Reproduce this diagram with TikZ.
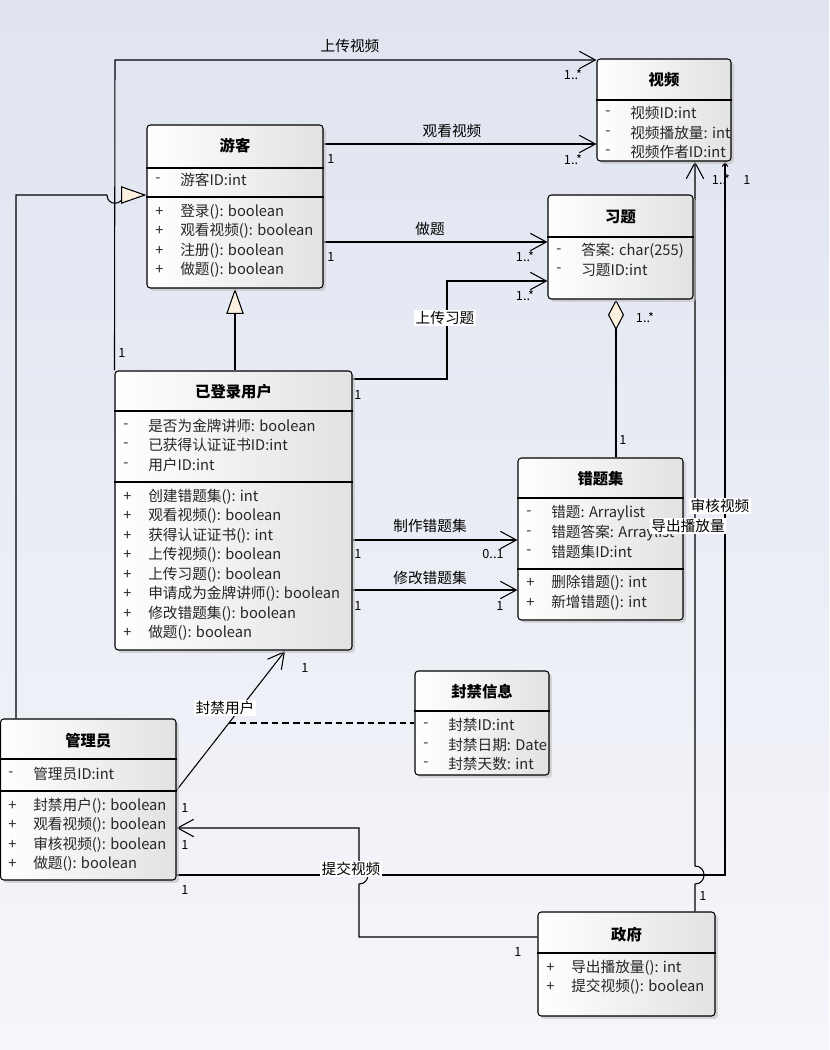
\documentclass[tikz,border=0pt]{standalone}
\usepackage{fontspec}
\setmainfont{Noto Sans CJK SC}
\usetikzlibrary{arrows.meta,shadows,fit,calc}
\definecolor{bgtop}{RGB}{223,228,240}
\definecolor{bgbot}{RGB}{245,246,250}
\definecolor{cream}{RGB}{252,240,224}
\definecolor{boxr}{RGB}{226,226,226}
\pgfdeclarelayer{back}
\pgfdeclarelayer{links}
\pgfsetlayers{back,links,main}
\newcounter{rowc}
\newcommand\mrow[4]{\stepcounter{rowc}\node[mem] (v\therowc) at (#1,#2) {#3};\node[mem] (t\therowc) at (#1+25,#2) {#4};}
\newcommand\umlbox[7]{\node[cls, fit={(#2,#3) (#4,#5)}] (#1) {};\node[ttl] (#1T) at ({(#2+#4)/2},#6) {#7};}
\newcommand\csep[2]{\draw[boxline] (#1.west |- 0,#2) -- (#1.east |- 0,#2);}
\tikzset{
  cls/.style={draw, line width=0.8pt, rounded corners=2.5pt, inner sep=0pt, left color=white, right color=boxr,
    drop shadow={shadow xshift=2.2pt, shadow yshift=-2.2pt, fill=black!25, opacity=0.6}},
  boxline/.style={line width=0.8pt},
  ttl/.style={font=\bfseries\fontsize{11.5}{13}\selectfont, inner sep=0pt},
  mem/.style={anchor=west, inner sep=0pt, font=\fontsize{11}{12}\selectfont, text=black!85},
  mult/.style={inner sep=0pt, font=\fontsize{9.5}{11}\selectfont},
  lbl/.style={inner sep=1pt, font=\fontsize{11}{13}\selectfont},
  lblw/.style={lbl, fill=white},
  conn/.style={line width=0.8pt},
  assoc/.style={conn, -{Straight Barb[length=12pt,width=13pt,line width=0.8pt]}},
  tinyarr/.style={conn, -{Straight Barb[length=3pt,width=4pt,line width=0.8pt]}},
  gen/.style={conn, -{Triangle[length=19pt,width=13pt,fill=cream,line width=0.8pt]}},
  agg/.style={conn, {Diamond[length=23pt,width=12pt,fill=cream,line width=0.8pt]}-},
}
\begin{document}
\begin{tikzpicture}[x=0.75pt,y=-0.75pt]
\useasboundingbox (0,0) rectangle (829,1050);
\begin{pgfonlayer}{back}
\shade[top color=bgtop, bottom color=bgbot] (0,0) rectangle (829,1050);
\end{pgfonlayer}

% ---------- class boxes ----------
\umlbox{vid}{597}{59}{731}{161}{80}{视频}
\umlbox{guest}{147}{125}{323}{288}{146}{游客}
\umlbox{ex}{548}{195}{693}{299}{217}{习题}
\umlbox{logged}{115}{371}{352}{650}{392}{已登录用户}
\umlbox{errs}{518}{458}{683}{620}{479}{错题集}
\umlbox{ban}{415}{671}{549}{775}{692}{封禁信息}
\umlbox{admin}{0.5}{719}{176}{880}{741}{管理员}
\umlbox{gov}{538}{912}{715}{1016}{935}{政府}

\csep{vid}{100}
\mrow{605}{113}{-}{视频ID:int}
\mrow{605}{133}{-}{视频播放量: int}
\mrow{605}{152}{-}{视频作者ID:int}

\csep{guest}{168}
\csep{guest}{197}
\mrow{155}{180}{-}{游客ID:int}
\mrow{155}{212}{+}{登录(): boolean}
\mrow{155}{231}{+}{观看视频(): boolean}
\mrow{155}{251}{+}{注册(): boolean}
\mrow{155}{270}{+}{做题(): boolean}

\csep{ex}{237}
\mrow{556}{251}{-}{答案: char(255)}
\mrow{556}{270}{-}{习题ID:int}

\csep{logged}{411}
\csep{logged}{482}
\mrow{123}{426}{-}{是否为金牌讲师: boolean}
\mrow{123}{445}{-}{已获得认证证书ID:int}
\mrow{123}{465}{-}{用户ID:int}
\mrow{123}{497}{+}{创建错题集(): int}
\mrow{123}{516}{+}{观看视频(): boolean}
\mrow{123}{536}{+}{获得认证证书(): int}
\mrow{123}{555}{+}{上传视频(): boolean}
\mrow{123}{575}{+}{上传习题(): boolean}
\mrow{123}{594}{+}{申请成为金牌讲师(): boolean}
\mrow{123}{614}{+}{修改错题集(): boolean}
\mrow{123}{633}{+}{做题(): boolean}

\csep{errs}{498}
\csep{errs}{569}
\mrow{526}{513}{-}{错题: Arraylist}
\mrow{526}{533}{-}{错题答案: Arraylist}
\mrow{526}{552}{-}{错题集ID:int}
\mrow{526}{583}{+}{删除错题(): int}
\mrow{526}{603}{+}{新增错题(): int}

\csep{ban}{711}
\mrow{423}{725}{-}{封禁ID:int}
\mrow{423}{745}{-}{封禁日期: Date}
\mrow{423}{764}{-}{封禁天数: int}

\csep{admin}{759}
\csep{admin}{791}
\mrow{8}{774}{-}{管理员ID:int}
\mrow{8}{806}{+}{封禁用户(): boolean}
\mrow{8}{825}{+}{观看视频(): boolean}
\mrow{8}{845}{+}{审核视频(): boolean}
\mrow{8}{864}{+}{做题(): boolean}

\csep{gov}{953}
\mrow{546}{968}{+}{导出播放量(): int}
\mrow{546}{987}{+}{提交视频(): boolean}

% ---------- connectors ----------
\begin{pgfonlayer}{links}
\draw[assoc] (logged.north west) -- (115,60) -- (vid.west |- 0,60);
\draw[assoc] (guest.east |- 0,144) -- (vid.west |- 0,144);
\draw[assoc] (guest.east |- 0,242) -- (ex.west |- 0,242);
\draw[assoc] (logged.east |- 0,379) -- (447,379) -- (447,281) -- (ex.west |- 0,281);
\draw[gen] (235,0 |- logged.north) -- (235,0 |- guest.south);
\draw[gen] (16,0 |- admin.north) -- (16,195) -- (107,195) .. controls (107,206) and (123,206) .. (123,195) -- (guest.west |- 0,195);
\draw[agg] (616,0 |- ex.south) -- (616,0 |- errs.north);
\draw[assoc] (logged.east |- 0,540) -- (errs.west |- 0,540);
\draw[assoc] (logged.east |- 0,590) -- (errs.west |- 0,590);
\coordinate (banS) at (176,791);
\coordinate (banE) at (285,651);
\draw[assoc] (banS) -- (banE);
\coordinate (banMid) at ($(banS)!0.486!(banE)$);
\draw[conn, dash pattern=on 5pt off 3pt] (banMid) -- (ban.west |- banMid);
\draw[assoc] (gov.west |- 0,937) -- (359,937) -- (359,884) .. controls (371,884) and (371,866) .. (359,866) -- (359,828) -- (admin.east |- 0,828);
\draw[tinyarr] (admin.east |- 0,875) -- (725,875) -- (725,0 |- vid.south);
\draw[assoc] (695,0 |- gov.north) -- (695,884) .. controls (707,884) and (707,866) .. (695,866) -- (695,0 |- vid.south);
\end{pgfonlayer}

% ---------- connector labels ----------
\node[lbl] (lUpVid) at (350,46) {上传视频};
\node[lbl] (lWatch) at (452,131) {观看视频};
\node[lbl] (lDo) at (430,229) {做题};
\node[lblw] (lUpEx) at (445,318) {上传习题};
\node[lbl] (lMake) at (430,526) {制作错题集};
\node[lbl] (lMod) at (430,578) {修改错题集};
\node[lblw] (lBan) at (225,708) {封禁用户};
\node[lblw] (lSub) at (351,869) {提交视频};
\node[lblw] (lAudit) at (720,506) {审核视频};
\node[lblw] (lExport) at (688,526) {导出播放量};

% ---------- multiplicities ----------
\node[mult] (m1) at (122,353) {1};
\node[mult] (m2) at (573,75) {1..*};
\node[mult] (m3) at (331,159) {1};
\node[mult] (m4) at (573,160) {1..*};
\node[mult] (m5) at (331,257) {1};
\node[mult] (m6) at (525,257) {1..*};
\node[mult] (m7) at (358,395) {1};
\node[mult] (m8) at (525,296) {1..*};
\node[mult] (m9) at (645,318) {1..*};
\node[mult] (m10) at (623,440) {1};
\node[mult] (m11) at (358,554) {1};
\node[mult] (m12) at (493,554) {0..1};
\node[mult] (m13) at (358,606) {1};
\node[mult] (m14) at (500,606) {1};
\node[mult] (m15) at (305,668) {1};
\node[mult] (m16) at (185,808) {1};
\node[mult] (m17) at (185,845) {1};
\node[mult] (m18) at (185,890) {1};
\node[mult] (m19) at (518,952) {1};
\node[mult] (m20) at (703,896) {1};
\node[mult] (m21) at (721,180) {1..*};
\node[mult] (m22) at (747,180) {1};
\end{tikzpicture}
\end{document}
